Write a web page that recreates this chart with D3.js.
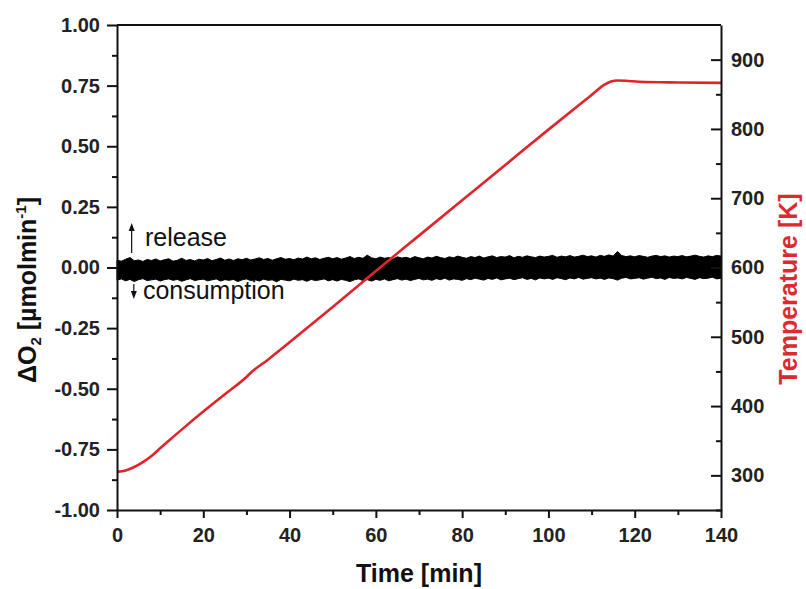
<!DOCTYPE html>
<meta charset="utf-8">
<style>
    body { margin: 0; background: #fff; }
    svg { font-family: "Liberation Sans", Arial, sans-serif; }
    .axis path, .axis line { stroke: #111; stroke-width: 2; }
    .axis text { font-size: 20px; font-weight: bold; fill: #222; }
    .minor path { display: none; }
    .title { font-size: 25px; font-weight: bold; }
    .note { font-size: 25px; fill: #111; }
</style>
<body>
<script src="https://cdn.jsdelivr.net/npm/d3@7"></script>
<script>
    // temperature trace (K)
    let tempTime = [0, 2, 4, 6, 8, 10, 12, 15, 20, 25, 30, 31, 35, 40, 50, 60, 70, 80, 90, 100, 110, 113, 114.5, 116, 118, 121, 130, 140];
    let tempK = [305, 307, 312, 319, 328, 339, 350, 366, 392, 417, 442, 448, 467, 492, 543, 595, 646, 697, 748, 799, 849, 864, 868.5, 870, 869.5, 868, 867, 866.5];

    // delta O2 signal, upper / lower envelope of the noisy trace, one value per minute (0..140)
    let o2Upper = [
        .030, .026, .034, .041, .028, .031, .025, .033, .029, .035,
        .027, .032, .036, .026, .030, .038, .029, .033, .027, .034,
        .031, .037, .028, .033, .039, .030, .035, .029, .036, .032,
        .038, .031, .035, .040, .033, .037, .030, .036, .041, .034,
        .037, .032, .039, .035, .043, .036, .040, .033, .038, .042,
        .036, .041, .034, .039, .045, .037, .042, .038, .051, .040,
        .036, .043, .038, .041, .035, .044, .039, .042, .037, .045,
        .040, .036, .043, .039, .046, .041, .037, .044, .040, .047,
        .042, .038, .045, .041, .047, .039, .044, .048, .041, .045,
        .043, .049, .040, .046, .042, .048, .044, .041, .047, .043,
        .046, .050, .042, .047, .044, .049, .043, .046, .051, .045,
        .048, .043, .050, .046, .052, .047, .066, .049, .045, .048,
        .044, .049, .046, .042, .047, .050, .045, .048, .043, .047,
        .045, .049, .044, .047, .051, .046, .043, .048, .045, .050,
        .047];
    let o2Lower = [
        -.052, -.047, -.055, -.049, -.058, -.050, -.046, -.054, -.051, -.048,
        -.056, -.050, -.047, -.053, -.049, -.057, -.051, -.046, -.054, -.050,
        -.048, -.055, -.051, -.047, -.056, -.050, -.053, -.049, -.058, -.051,
        -.047, -.054, -.050, -.056, -.048, -.053, -.051, -.059, -.049, -.052,
        -.055, -.048, -.053, -.050, -.057, -.049, -.054, -.051, -.047, -.055,
        -.050, -.056, -.049, -.053, -.058, -.051, -.047, -.054, -.050, -.056,
        -.049, -.053, -.047, -.055, -.050, -.046, -.052, -.048, -.054, -.049,
        -.045, -.051, -.048, -.053, -.046, -.050, -.044, -.052, -.047, -.049,
        -.053, -.046, -.050, -.044, -.048, -.052, -.045, -.049, -.043, -.051,
        -.047, -.044, -.050, -.046, -.042, -.049, -.045, -.051, -.043, -.047,
        -.044, -.049, -.042, -.046, -.050, -.043, -.047, -.041, -.048, -.045,
        -.042, -.047, -.044, -.049, -.043, -.046, -.052, -.044, -.041, -.047,
        -.045, -.042, -.048, -.044, -.040, -.046, -.043, -.049, -.041, -.045,
        -.043, -.047, -.041, -.045, -.049, -.042, -.046, -.044, -.040, -.047,
        -.044];

    let xTicks = [0, 20, 40, 60, 80, 100, 120, 140];
    let o2Ticks = [-1, -0.75, -0.5, -0.25, 0, 0.25, 0.5, 0.75, 1];
    let tempTicks = [300, 400, 500, 600, 700, 800, 900];

    let width = 806, height = 589;
    let margin = { top: 25, right: 85, bottom: 79, left: 117 };
    let w = width - margin.left - margin.right,
        h = height - margin.top - margin.bottom;

    let svg = d3.select("body").append("svg")
        .attr("width", width)
        .attr("height", height);

    let g = svg.append("g")
        .attr("transform", "translate(" + margin.left + "," + margin.top + ")");

    let x = d3.scaleLinear().domain([0, 140]).range([0, w]);
    let y = d3.scaleLinear().domain([-1, 1]).range([h, 0]);
    let yT = d3.scaleLinear().domain([250, 950]).range([h, 0]);

    // black O2 band
    let o2Data = o2Upper.map(function(u, i) {
        return { t: i, hi: u, lo: o2Lower[i] };
    });
    let band = d3.area()
        .x(function(d) { return x(d.t); })
        .y0(function(d) { return y(d.lo); })
        .y1(function(d) { return y(d.hi); });
    g.append("path")
        .datum(o2Data)
        .attr("d", band)
        .attr("fill", "#000")
        .attr("stroke", "#000")
        .attr("stroke-width", 1);

    // red temperature line
    let tData = tempTime.map(function(t, i) { return { t: t, k: tempK[i] }; });
    let line = d3.line()
        .x(function(d) { return x(d.t); })
        .y(function(d) { return yT(d.k); })
        .curve(d3.curveMonotoneX);
    g.append("path")
        .datum(tData)
        .attr("d", line)
        .attr("fill", "none")
        .attr("stroke", "#e1232b")
        .attr("stroke-width", 2.6);

    // minor ticks
    let minor = function(vals) { return vals.slice(0, -1).map(function(v, i) { return (v + vals[i + 1]) / 2; }); };
    g.append("g").attr("class", "axis minor")
        .call(d3.axisLeft(y).tickValues(minor(o2Ticks)).tickSize(5).tickFormat(""));
    g.append("g").attr("class", "axis minor")
        .attr("transform", "translate(0," + h + ")")
        .call(d3.axisBottom(x).tickValues(minor(xTicks)).tickSize(5).tickFormat(""));
    g.append("g").attr("class", "axis minor")
        .attr("transform", "translate(" + w + ",0)")
        .call(d3.axisRight(yT).tickValues(minor([200].concat(tempTicks))).tickSize(-5).tickFormat(""));

    // major axes
    g.append("g").attr("class", "axis")
        .call(d3.axisLeft(y).tickValues(o2Ticks).tickSize(10).tickSizeOuter(0).tickPadding(7)
            .tickFormat(function(d) { return d.toFixed(2); }));
    g.append("g").attr("class", "axis")
        .attr("transform", "translate(0," + h + ")")
        .call(d3.axisBottom(x).tickValues(xTicks).tickSize(8).tickSizeOuter(0).tickPadding(10));
    g.append("g").attr("class", "axis")
        .attr("transform", "translate(" + w + ",0)")
        .call(d3.axisRight(yT).tickValues(tempTicks).tickSize(-10).tickSizeOuter(0).tickPadding(10));

    // top frame
    g.append("line")
        .attr("x1", 0).attr("x2", w).attr("y1", 0).attr("y2", 0)
        .attr("stroke", "#111").attr("stroke-width", 2);

    // titles
    svg.append("text")
        .attr("class", "title")
        .attr("x", margin.left + w / 2)
        .attr("y", 582)
        .attr("text-anchor", "middle")
        .attr("fill", "#111")
        .text("Time [min]");

    let lt = svg.append("text")
        .attr("class", "title")
        .attr("transform", "translate(36,290) rotate(-90)")
        .attr("text-anchor", "middle")
        .attr("fill", "#111");
    lt.append("tspan").text("ΔO");
    lt.append("tspan").attr("font-size", "15px").attr("baseline-shift", "-5").text("2");
    lt.append("tspan").text(" [µmolmin");
    lt.append("tspan").attr("font-size", "15px").attr("baseline-shift", "10").text("-1");
    lt.append("tspan").text("]");

    svg.append("text")
        .attr("class", "title")
        .attr("transform", "translate(797,289) rotate(-90)")
        .attr("text-anchor", "middle")
        .attr("fill", "#dc2a2e")
        .text("Temperature [K]");

    // release / consumption notes
    function arrow(t, from, to) {
        let ax = x(t), y0 = y(from), y1 = y(to), dir = y1 < y0 ? 1 : -1;
        g.append("line")
            .attr("x1", ax).attr("x2", ax).attr("y1", y0).attr("y2", y1 + dir * 6)
            .attr("stroke", "#111").attr("stroke-width", 1.2);
        g.append("path")
            .attr("d", "M" + ax + "," + y1 + "L" + (ax - 3) + "," + (y1 + dir * 8) + "L" + (ax + 3) + "," + (y1 + dir * 8) + "Z")
            .attr("fill", "#111");
    }
    arrow(3.4, 0.06, 0.183);
    arrow(3.9, -0.068, -0.13);

    g.append("text").attr("class", "note")
        .attr("x", x(6.5)).attr("y", y(0.088))
        .text("release");
    g.append("text").attr("class", "note")
        .attr("x", x(6.0)).attr("y", y(-0.128))
        .text("consumption");
</script>
</body>
